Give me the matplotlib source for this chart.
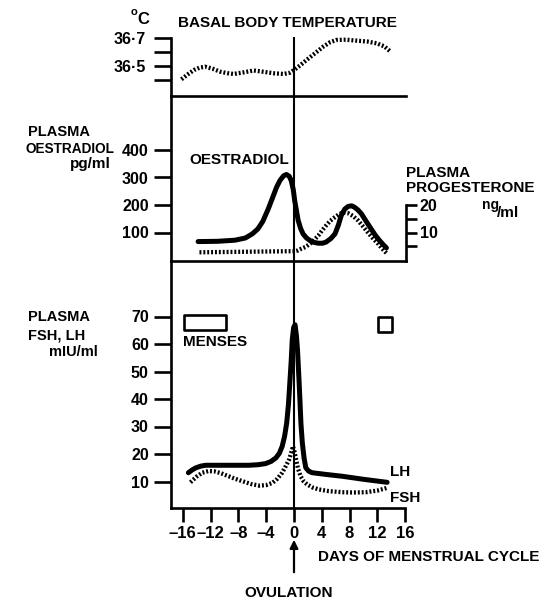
import matplotlib
matplotlib.use('Agg')
import matplotlib.pyplot as plt
from matplotlib.patches import Rectangle

plt.rcParams['font.family'] = ['Liberation Sans', 'DejaVu Sans']
plt.rcParams['font.weight'] = 'bold'

# ---------------- data ----------------
temp_days = [-16.2, -15.3, -14.4, -13.6, -12.8, -11.7, -10.6, -9.6, -8.7, -7.2, -5.8, -4.3, -2.9, -1.5, -0.6, 0.0, 0.9,
             1.8, 3.0, 4.2, 5.2, 6.1, 7.5, 9.0, 10.5, 11.9, 13.0, 13.9]
temp_vals = [36.405, 36.44, 36.471, 36.488, 36.495, 36.48, 36.459, 36.449, 36.443, 36.455, 36.468, 36.458, 36.448,
             36.443, 36.452, 36.471, 36.505, 36.543, 36.59, 36.638, 36.67, 36.686, 36.688, 36.681, 36.675, 36.662,
             36.64, 36.602]

oest_days = [-13.8, -11.0, -8.5, -7.0, -6.0, -5.2, -4.5, -3.7, -3.0, -2.5, -2.0, -1.5, -1.1, -0.7, -0.4, -0.1, 0.1,
             0.35, 0.6, 0.95, 1.3, 1.8, 2.3, 2.9, 3.5, 4.1, 4.6, 5.3, 5.9, 6.4, 6.8, 7.3, 7.8, 8.3, 8.7, 9.2, 9.7,
             10.4, 11.1, 11.7, 12.3, 12.8, 13.3]
oest_vals = [67, 68, 72, 80, 95, 113, 140, 186, 232, 265, 290, 306, 311, 305, 289, 255, 216, 180, 144, 115, 95, 80,
             71, 64, 61, 61, 65, 78, 95, 128, 162, 185, 195, 197, 192, 182, 168, 140, 113, 90, 71, 57, 44]

prog_days = [-13.6, -0.4, 0.1, 0.6, 1.05, 1.7, 2.3, 2.9, 3.5, 4.0, 4.6, 5.2, 5.9, 6.4, 6.8, 7.3, 7.8, 8.5, 9.2, 9.9,
             10.6, 11.3, 12.1, 12.7, 13.3]
prog_vals = [2.8, 3.2, 3.2, 3.5, 4.1, 4.8, 5.9, 7.3, 8.9, 10.6, 12.5, 14.2, 15.6, 16.5, 17.0, 17.2, 17.0, 16.0, 14.4,
             12.3, 10.1, 8.0, 5.9, 4.1, 2.5]

lh_days = [-15.2, -14.6, -14.1, -13.4, -12.7, -9.8, -6.5, -5.2, -4.1, -3.3, -2.6, -2.1, -1.7, -1.35, -1.05, -0.8,
           -0.6, -0.4, -0.25, -0.05, 0.15, 0.35, 0.5, 0.7, 0.85, 1.0, 1.2, 1.45, 1.7, 2.1, 2.6, 4.5, 6.95, 10.0, 13.4]
lh_vals = [13.2, 14.3, 15.0, 15.6, 15.9, 15.9, 15.9, 16.1, 16.5, 17.3, 18.6, 20.3, 22.8, 26.5, 31.3, 38.0, 45.9, 54.0,
           61.6, 66.0, 67.0, 63.0, 58.0, 48.0, 39.8, 31.0, 24.0, 18.5, 15.0, 13.8, 13.2, 12.6, 11.9, 10.8, 9.7]

fsh_days = [-14.9, -14.0, -13.2, -12.3, -11.5, -10.6, -9.8, -8.6, -7.4, -6.2, -5.0, -4.0, -3.1, -2.4, -1.7, -1.2,
            -0.7, -0.4, -0.15, 0.05, 0.3, 0.6, 0.95, 1.4, 1.9, 2.7, 3.6, 5.0, 6.95, 8.5, 10.3, 12.0, 13.4]
fsh_vals = [9.7, 11.8, 13.2, 13.8, 13.7, 13.1, 12.3, 11.1, 10.1, 9.1, 8.5, 8.7, 9.5, 11.0, 13.2, 15.5, 18.0, 20.5,
            22.8, 21.0, 18.0, 14.5, 11.9, 10.0, 8.9, 7.8, 7.1, 6.5, 6.1, 6.0, 6.1, 6.7, 7.7]

menses = [(-15.8, -9.8, 65.0, 70.5), (12.1, 14.1, 64.4, 69.8)]

x_ticks = [-16, -12, -8, -4, 0, 4, 8, 12, 16]
x_labels = ['\u201316', '\u201312', '\u20138', '\u20134', '0', '4', '8', '12', '16']
temp_ticks = [36.4, 36.5, 36.6, 36.7]
temp_labels = ['', '36\u00b75', '', '36\u00b77']
oest_ticks = [100, 200, 300, 400]
prog_ticks = [5, 10, 15, 20]
prog_labels = ['', '10', '', '20']
gon_ticks = [10, 20, 30, 40, 50, 60, 70]

# ---------------- layout ----------------
W, H = 553, 599
fig = plt.figure(figsize=(W / 100, H / 100), dpi=100)
fig.patch.set_facecolor('white')


def px_axes(x0, x1, y0, y1):
    a = fig.add_axes([x0 / W, 1 - y1 / H, (x1 - x0) / W, (y1 - y0) / H])
    a.patch.set_visible(False)
    return a


def ftext(x, y, s, **kw):
    kw.setdefault('fontsize', 11)
    kw.setdefault('va', 'center')
    kw.setdefault('ha', 'left')
    kw.setdefault('fontweight', 'bold')
    fig.text(x / W, 1 - y / H, s, **kw)


X0, X1 = 171, 406
XPX0, PPD = 294, 6.95
xlim = ((X0 - XPX0) / PPD, (X1 - XPX0) / PPD)

ax_t = px_axes(X0, X1, 37, 96)
ax_m = px_axes(X0, X1, 96, 261)
ax_b = px_axes(X0, X1, 261, 508)

SPW = 1.9
DOT = dict(color='k', lw=3.1, linestyle=(0, (0.45, 0.45)), dash_capstyle='butt')
SOLID = dict(color='k', lw=3.6, solid_capstyle='round', solid_joinstyle='round')
for a in (ax_t, ax_m, ax_b):
    a.set_xlim(*xlim)
    for s in a.spines.values():
        s.set_linewidth(SPW)
    a.spines['top'].set_visible(False)
    a.spines['right'].set_visible(False)
    a.tick_params(axis='y', direction='out', length=12, width=SPW, labelsize=11.5, pad=4)
    a.axvline(0, color='k', lw=1.5, zorder=1)

# top panel: temperature
ax_t.set_ylim(36.7 - (96 - 38) / 140, 36.7 + 1 / 140)
ax_t.spines['left'].set_bounds(36.7 - (96 - 38) / 140, 36.7)
ax_t.set_xticks([])
ax_t.set_yticks(temp_ticks)
ax_t.set_yticklabels(temp_labels)
ax_t.tick_params(axis='y', pad=6)
ax_t.plot(temp_days, temp_vals, **DOT)

# middle panel: oestradiol / progesterone
ylo, yhi = -1 / 0.275, (260 - 96) / 0.275
ax_m.set_ylim(ylo, yhi)
ax_m.set_xticks([])
ax_m.set_yticks(oest_ticks)
ax_m.plot(oest_days, oest_vals, zorder=3, **SOLID)
ax_p = ax_m.twinx()
ax_p.patch.set_visible(False)
ax_p.set_ylim(ylo / 10, yhi / 10)
for k in ('top', 'left', 'bottom'):
    ax_p.spines[k].set_visible(False)
ax_p.spines['right'].set_linewidth(SPW)
ax_p.spines['right'].set_bounds(ylo / 10, 20)
ax_p.set_yticks(prog_ticks)
ax_p.set_yticklabels(prog_labels)
ax_p.tick_params(axis='y', direction='out', length=8, width=SPW, labelsize=11.5, pad=2)
ax_p.plot(prog_days, prog_vals, zorder=2, **DOT)

# bottom panel: FSH / LH
ax_b.set_ylim(1 / 2.75, (509 - 261) / 2.75)
ax_b.set_yticks(gon_ticks)
ax_b.spines['bottom'].set_bounds(xlim[0], 16)
ax_b.set_xticks(x_ticks)
ax_b.set_xticklabels(x_labels)
ax_b.tick_params(axis='x', direction='out', length=10, width=SPW, labelsize=12, pad=3)
ax_b.plot(lh_days, lh_vals, zorder=3, **SOLID)
ax_b.plot(fsh_days, fsh_vals, zorder=2, **DOT)
for (xa, xb, ya, yb) in menses:
    ax_b.add_patch(Rectangle((xa, ya), xb - xa, yb - ya, fill=False, lw=1.9,
                             ec='k', joinstyle='round'))

# ovulation arrow
ax_b.annotate('', xy=(0, -29 / 247), xycoords=ax_b.get_xaxis_transform(),
              xytext=(0, -67 / 247), textcoords=ax_b.get_xaxis_transform(),
              arrowprops=dict(arrowstyle='-|>', lw=1.6, color='k', mutation_scale=12),
              annotation_clip=False)

# ---------------- text ----------------
ftext(131, 12, 'o', fontsize=8)
ftext(137, 19, 'C', fontsize=12)
ftext(178, 23, 'BASAL BODY TEMPERATURE')
ftext(28, 132, 'PLASMA', fontsize=10.5)
ftext(26, 149, 'OESTRADIOL', fontsize=9.8)
ftext(111, 164, 'pg/ml', ha='right', fontsize=11)
ftext(189, 160, 'OESTRADIOL')
ftext(406, 173, 'PLASMA')
ftext(406, 188, 'PROGESTERONE')
ftext(482, 205, 'ng', fontsize=10)
ftext(497, 213, '/ml')
ftext(28, 317, 'PLASMA', fontsize=10.5)
ftext(28, 335, 'FSH, LH', fontsize=10.5)
ftext(49, 352, 'mIU/ml', fontsize=10.5)
ftext(183, 342, 'MENSES')
ftext(390, 472, 'LH')
ftext(390, 498, 'FSH')
ftext(318, 557, 'DAYS OF MENSTRUAL CYCLE')
ftext(244, 593, 'OVULATION')

fig.savefig('out.png', dpi=100)
